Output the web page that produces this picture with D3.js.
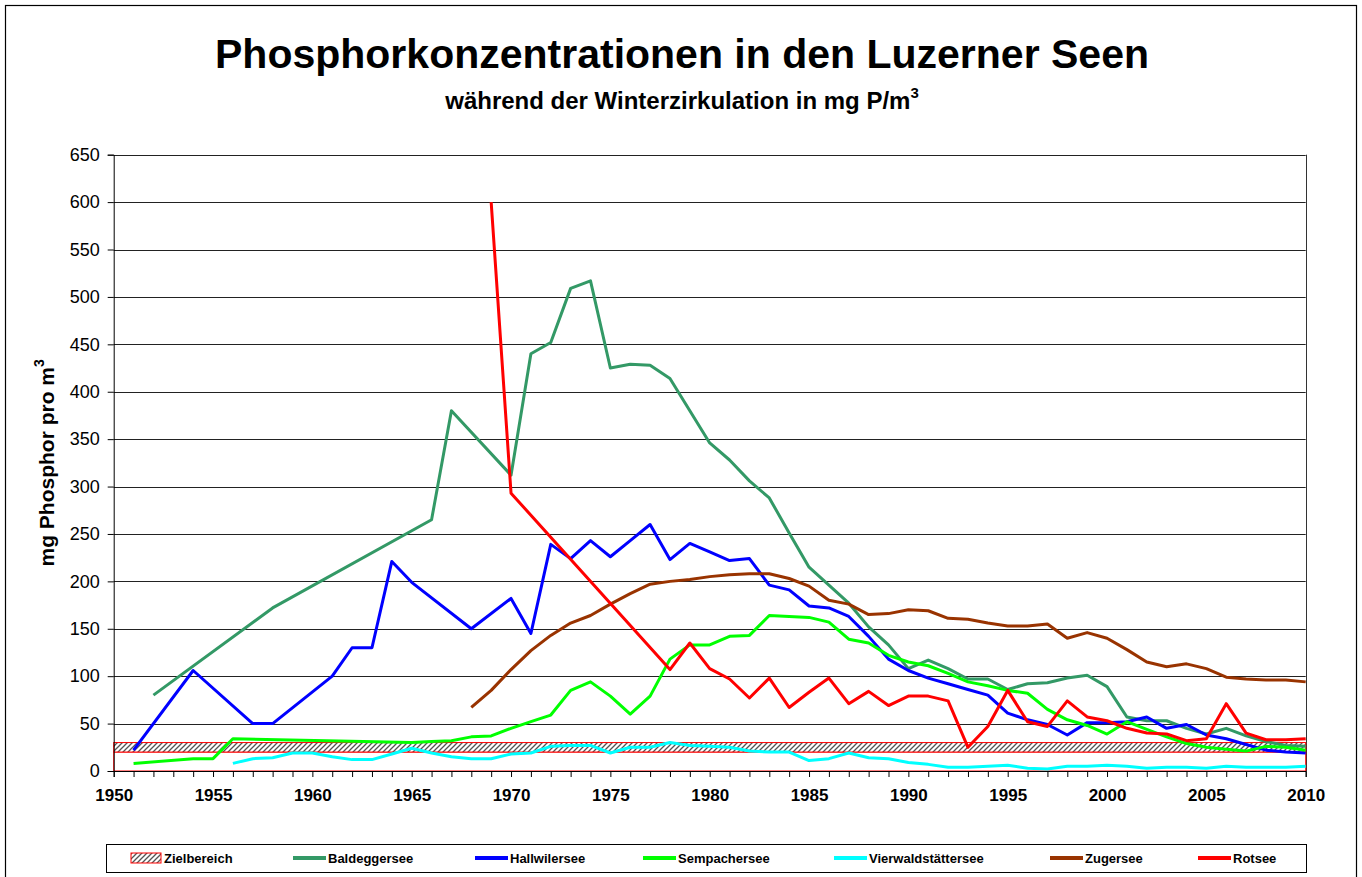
<!DOCTYPE html>
<html>
<head>
<meta charset="utf-8">
<script src="https://cdn.jsdelivr.net/npm/d3@7"></script>
<style>
  body { margin: 0; background: #fff; }
  svg { font-family: Arial, "Liberation Sans", sans-serif; }
</style>
</head>
<body>
<svg id="chart" width="1362" height="877"></svg>
<script>
// data (mg P / m3)
var baldYears = [1952,1958,1966,1967,1970,1971,1972,1973,1974,1975,1976,1977,1978,1979,1980,1981,1982,1983,1984,1985,1986,1987,1988,1989,1990,1991,1992,1993,1994,1995,1996,1997,1998,1999,2000,2001,2002,2003,2004,2005,2006,2007,2008,2009,2010];
var baldValues = [80,172,265,380,312,440,452,509,517,425,429,428,414,380,346,328,306,288,251,215,196,177,152,133,108,117,108,97,97,86,92,93,98,101,89,57,53,53,45,39,45,37,31,27,26];

var hallYears = [1951,1954,1957,1958,1961,1962,1963,1964,1965,1968,1970,1971,1972,1973,1974,1975,1976,1977,1978,1979,1980,1981,1982,1983,1984,1985,1986,1987,1988,1989,1990,1991,1992,1993,1994,1995,1996,1997,1998,1999,2000,2001,2002,2003,2004,2005,2006,2007,2008,2009,2010];
var hallValues = [22,106,50,50,100,130,130,221,199,150,182,145,239,224,243,226,243,260,223,240,231,222,224,196,191,174,172,163,142,118,106,98,92,86,80,61,54,49,38,51,51,52,57,45,49,38,34,28,22,20,19];

var sempYears = [1951,1954,1955,1956,1965,1966,1967,1968,1969,1970,1971,1972,1973,1974,1975,1976,1977,1978,1979,1980,1981,1982,1983,1984,1985,1986,1987,1988,1989,1990,1991,1992,1993,1994,1995,1996,1997,1998,1999,2000,2001,2002,2003,2004,2005,2006,2007,2008,2009,2010];
var sempValues = [8,13,13,34,30,31,32,36,37,45,52,59,85,94,79,60,79,118,133,133,142,143,164,163,162,157,139,135,122,115,111,103,94,90,85,82,65,54,48,39,52,44,36,29,25,23,21,26,25,22];

var vierYears = d3.range(1956, 2011);
var vierValues = [8,13,14,19,19,15,12,12,18,24,19,15,13,13,18,19,26,27,27,19,25,25,30,27,26,25,21,20,20,11,13,19,14,13,9,7,4,4,5,6,3,2,5,5,6,5,3,4,4,3,5,4,4,4,5];

var zugYears = d3.range(1968, 2011);
var zugValues = [67,85,107,127,143,156,164,176,187,197,200,202,205,207,208,208,203,195,180,176,165,166,170,169,161,160,156,153,153,155,140,146,140,128,115,110,113,108,99,97,96,96,94];

var rotYears = [1969,1970,1978,1979,1980,1981,1982,1983,1984,1985,1986,1987,1988,1989,1990,1991,1992,1993,1994,1995,1996,1997,1998,1999,2000,2001,2002,2003,2004,2005,2006,2007,2008,2009,2010];
var rotValues = [600,293,107,135,108,97,77,98,67,83,98,71,84,69,79,79,74,25,47,85,52,47,74,57,53,45,40,39,32,34,71,40,33,33,34];

// target range
var zielLow = 20, zielHigh = 30;

var yTicks = d3.range(0, 651, 50);
var xLabels = [1950,1955,1960,1965,1970,1975,1980,1985,1990,1995,2000,2005,2010];

var seriesNames = ["Baldeggersee","Hallwilersee","Sempachersee","Vierwaldstättersee","Zugersee","Rotsee"];
var seriesColors = ["#339966","#0000ff","#00ff00","#00ffff","#993300","#ff0000"];

var series = [
  {years: baldYears, values: baldValues},
  {years: hallYears, values: hallValues},
  {years: sempYears, values: sempValues},
  {years: vierYears, values: vierValues},
  {years: zugYears, values: zugValues},
  {years: rotYears, values: rotValues}
];

var svg = d3.select("#chart");

// plot area (window.top is reserved, so prefixed names)
var plotLeft = 113.7, plotRight = 1305.7, plotTop = 154.7, plotBottom = 771;

var x = d3.scaleLinear().domain([1950, 2010]).range([plotLeft, plotRight]);
var y = d3.scaleLinear().domain([0, 650]).range([plotBottom, plotTop]);

// outer frame
svg.append("rect")
  .attr("x", 5.5).attr("y", 5.5)
  .attr("width", 1351).attr("height", 900)
  .attr("fill", "none").attr("stroke", "#000").attr("stroke-width", 1.2);

// hatch for Zielbereich
var defs = svg.append("defs");
var pat = defs.append("pattern")
  .attr("id", "hatch")
  .attr("patternUnits", "userSpaceOnUse")
  .attr("width", 5).attr("height", 5);
pat.append("rect").attr("width", 5).attr("height", 5).attr("fill", "#fff");
pat.append("path")
  .attr("d", "M0,5 L5,0 M-1,1 L1,-1 M4,6 L6,4")
  .attr("stroke", "#555").attr("stroke-width", 1.3);

// title
svg.append("text")
  .attr("x", 682).attr("y", 68)
  .attr("text-anchor", "middle")
  .attr("font-size", 41).attr("font-weight", "bold")
  .text("Phosphorkonzentrationen in den Luzerner Seen");

var sub = svg.append("text")
  .attr("x", 682).attr("y", 109)
  .attr("text-anchor", "middle")
  .attr("font-size", 24).attr("font-weight", "bold");
sub.append("tspan").text("während der Winterzirkulation in mg P/m");
sub.append("tspan").attr("font-size", 15).attr("dy", -11).text("3");

// gridlines
svg.append("g")
  .selectAll("line")
  .data(yTicks)
  .enter().append("line")
  .attr("x1", plotLeft).attr("x2", plotRight)
  .attr("y1", function(d) { return Math.round(y(d)) + 0.5; })
  .attr("y2", function(d) { return Math.round(y(d)) + 0.5; })
  .attr("stroke", "#222").attr("stroke-width", 1);

// right border of plot
svg.append("line")
  .attr("x1", Math.round(plotRight) + 0.5).attr("x2", Math.round(plotRight) + 0.5)
  .attr("y1", y(650)).attr("y2", y(0))
  .attr("stroke", "#333");

// Zielbereich band 20-30, with transparent part 0-20 outlined in red
svg.append("rect")
  .attr("x", plotLeft).attr("y", y(zielLow))
  .attr("width", plotRight - plotLeft).attr("height", y(0) - y(zielLow))
  .attr("fill", "none").attr("stroke", "#ff0000").attr("stroke-width", 1);
svg.append("rect")
  .attr("x", plotLeft).attr("y", y(zielHigh))
  .attr("width", plotRight - plotLeft).attr("height", y(zielLow) - y(zielHigh))
  .attr("fill", "url(#hatch)").attr("stroke", "#ff0000").attr("stroke-width", 1);

// lines
var line = d3.line()
  .x(function(d) { return x(d[0]); })
  .y(function(d) { return y(d[1]); });

series.forEach(function(s, i) {
  var pts = s.years.map(function(yr, k) { return [yr, s.values[k]]; });
  svg.append("path")
    .datum(pts)
    .attr("d", line)
    .attr("fill", "none")
    .attr("stroke", seriesColors[i])
    .attr("stroke-width", 3)
    .attr("stroke-linejoin", "round");
});

// y axis
var yAxis = d3.axisLeft(y).tickValues(yTicks).tickSize(6).tickPadding(8);
var gy = svg.append("g")
  .attr("transform", "translate(" + plotLeft + ",0)")
  .call(yAxis);
gy.selectAll("text").attr("font-size", 18).attr("fill", "#000").attr("font-family", "Arial, 'Liberation Sans', sans-serif");
gy.selectAll("line").attr("stroke", "#000");
gy.select(".domain").attr("stroke", "#000");

// x axis: tick every year, label every 5
var xAxis = d3.axisBottom(x)
  .tickValues(d3.range(1950, 2011))
  .tickSize(6).tickPadding(12)
  .tickFormat(function(d) { return xLabels.indexOf(d) >= 0 ? d : ""; });
var gx = svg.append("g")
  .attr("transform", "translate(0," + plotBottom + ")")
  .call(xAxis);
gx.selectAll("text").attr("font-size", 17).attr("font-weight", "bold").attr("fill", "#000").attr("font-family", "Arial, 'Liberation Sans', sans-serif");
gx.selectAll("line").attr("stroke", "#000");
gx.select(".domain").attr("stroke", "#000");

// y title
var yt = svg.append("text")
  .attr("transform", "translate(54," + ((plotTop + plotBottom) / 2) + ") rotate(-90)")
  .attr("text-anchor", "middle")
  .attr("font-size", 21).attr("font-weight", "bold");
yt.append("tspan").text("mg Phosphor pro m");
yt.append("tspan").attr("font-size", 14).attr("dy", -10).text("3");

// legend
var lg = svg.append("g");
lg.append("rect")
  .attr("x", 106.5).attr("y", 844.5)
  .attr("width", 1200).attr("height", 28)
  .attr("fill", "#fff").attr("stroke", "#000").attr("stroke-width", 1);

var legX = [293, 475, 643, 834, 1050, 1198];
lg.append("rect")
  .attr("x", 131).attr("y", 853)
  .attr("width", 30).attr("height", 10)
  .attr("fill", "url(#hatch)").attr("stroke", "#ff0000");
lg.append("text")
  .attr("x", 164).attr("y", 863)
  .attr("font-size", 13).attr("font-weight", "bold")
  .text("Zielbereich");

seriesNames.forEach(function(n, i) {
  lg.append("line")
    .attr("x1", legX[i]).attr("x2", legX[i] + 33)
    .attr("y1", 858).attr("y2", 858)
    .attr("stroke", seriesColors[i]).attr("stroke-width", 4);
  lg.append("text")
    .attr("x", legX[i] + 35).attr("y", 863)
    .attr("font-size", 13).attr("font-weight", "bold")
    .text(n);
});
</script>
</body>
</html>
